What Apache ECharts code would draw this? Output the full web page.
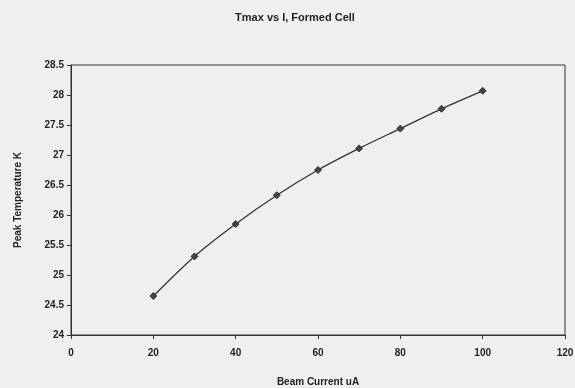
<!DOCTYPE html>
<html><head><meta charset="utf-8">
<script src="https://cdn.jsdelivr.net/npm/echarts@6/dist/echarts.min.js"></script>
<style>html,body{margin:0;padding:0;background:#efefed;}#c{width:575px;height:388px;}</style>
</head><body><div id="c"></div>
<script>
const beamCurrent = [20, 30, 40, 50, 60, 70, 80, 90, 100];
const peakTemp = [24.65, 25.31, 25.85, 26.33, 26.75, 27.11, 27.44, 27.77, 28.07];
const titleText = 'Tmax vs I, Formed Cell';
const xName = 'Beam Current uA';
const yName = 'Peak Temperature K';

const chart = echarts.init(document.getElementById('c'));
const font = 'Liberation Sans, Arial, sans-serif';
chart.setOption({
  backgroundColor: '#efefed',
  animation: false,
  title: {
    text: titleText, left: 290, top: 7, textAlign: 'center',
    textStyle: {fontFamily: font, fontSize: 11, fontWeight: 'bold', color: '#222'}
  },
  grid: {left: 71, right: 10, top: 65, bottom: 53, show: true, borderColor: '#333', borderWidth: 1,
         containLabel: false, outerBoundsMode: 'none'},
  xAxis: {
    type: 'value', min: 0, max: 120, interval: 20,
    name: xName, nameLocation: 'middle', nameGap: 42,
    nameTextStyle: {fontFamily: font, fontSize: 10, fontWeight: 'bold', color: '#222'},
    axisLine: {lineStyle: {color: '#333', width: 1}},
    axisTick: {show: true, length: 4, inside: false, lineStyle: {color: '#333'}},
    axisLabel: {fontFamily: font, fontSize: 10, fontWeight: 'bold', color: '#222', margin: 13},
    splitLine: {show: false}
  },
  yAxis: {
    type: 'value', min: 24, max: 28.5, interval: 0.5,
    name: yName, nameLocation: 'middle', nameGap: 48, nameRotate: 90,
    nameTextStyle: {fontFamily: font, fontSize: 10, fontWeight: 'bold', color: '#222'},
    axisLine: {show: true, lineStyle: {color: '#333', width: 1}},
    axisTick: {show: true, length: 4, lineStyle: {color: '#333'}},
    axisLabel: {fontFamily: font, fontSize: 10, fontWeight: 'bold', color: '#222', margin: 7},
    splitLine: {show: false}
  },
  series: [{
    type: 'line', smooth: 0.3,
    data: beamCurrent.map((x, i) => [x, peakTemp[i]]),
    symbol: 'diamond', symbolSize: 7,
    lineStyle: {color: '#333', width: 1.3},
    itemStyle: {color: '#444', borderColor: '#333'}
  }]
});
</script></body></html>
